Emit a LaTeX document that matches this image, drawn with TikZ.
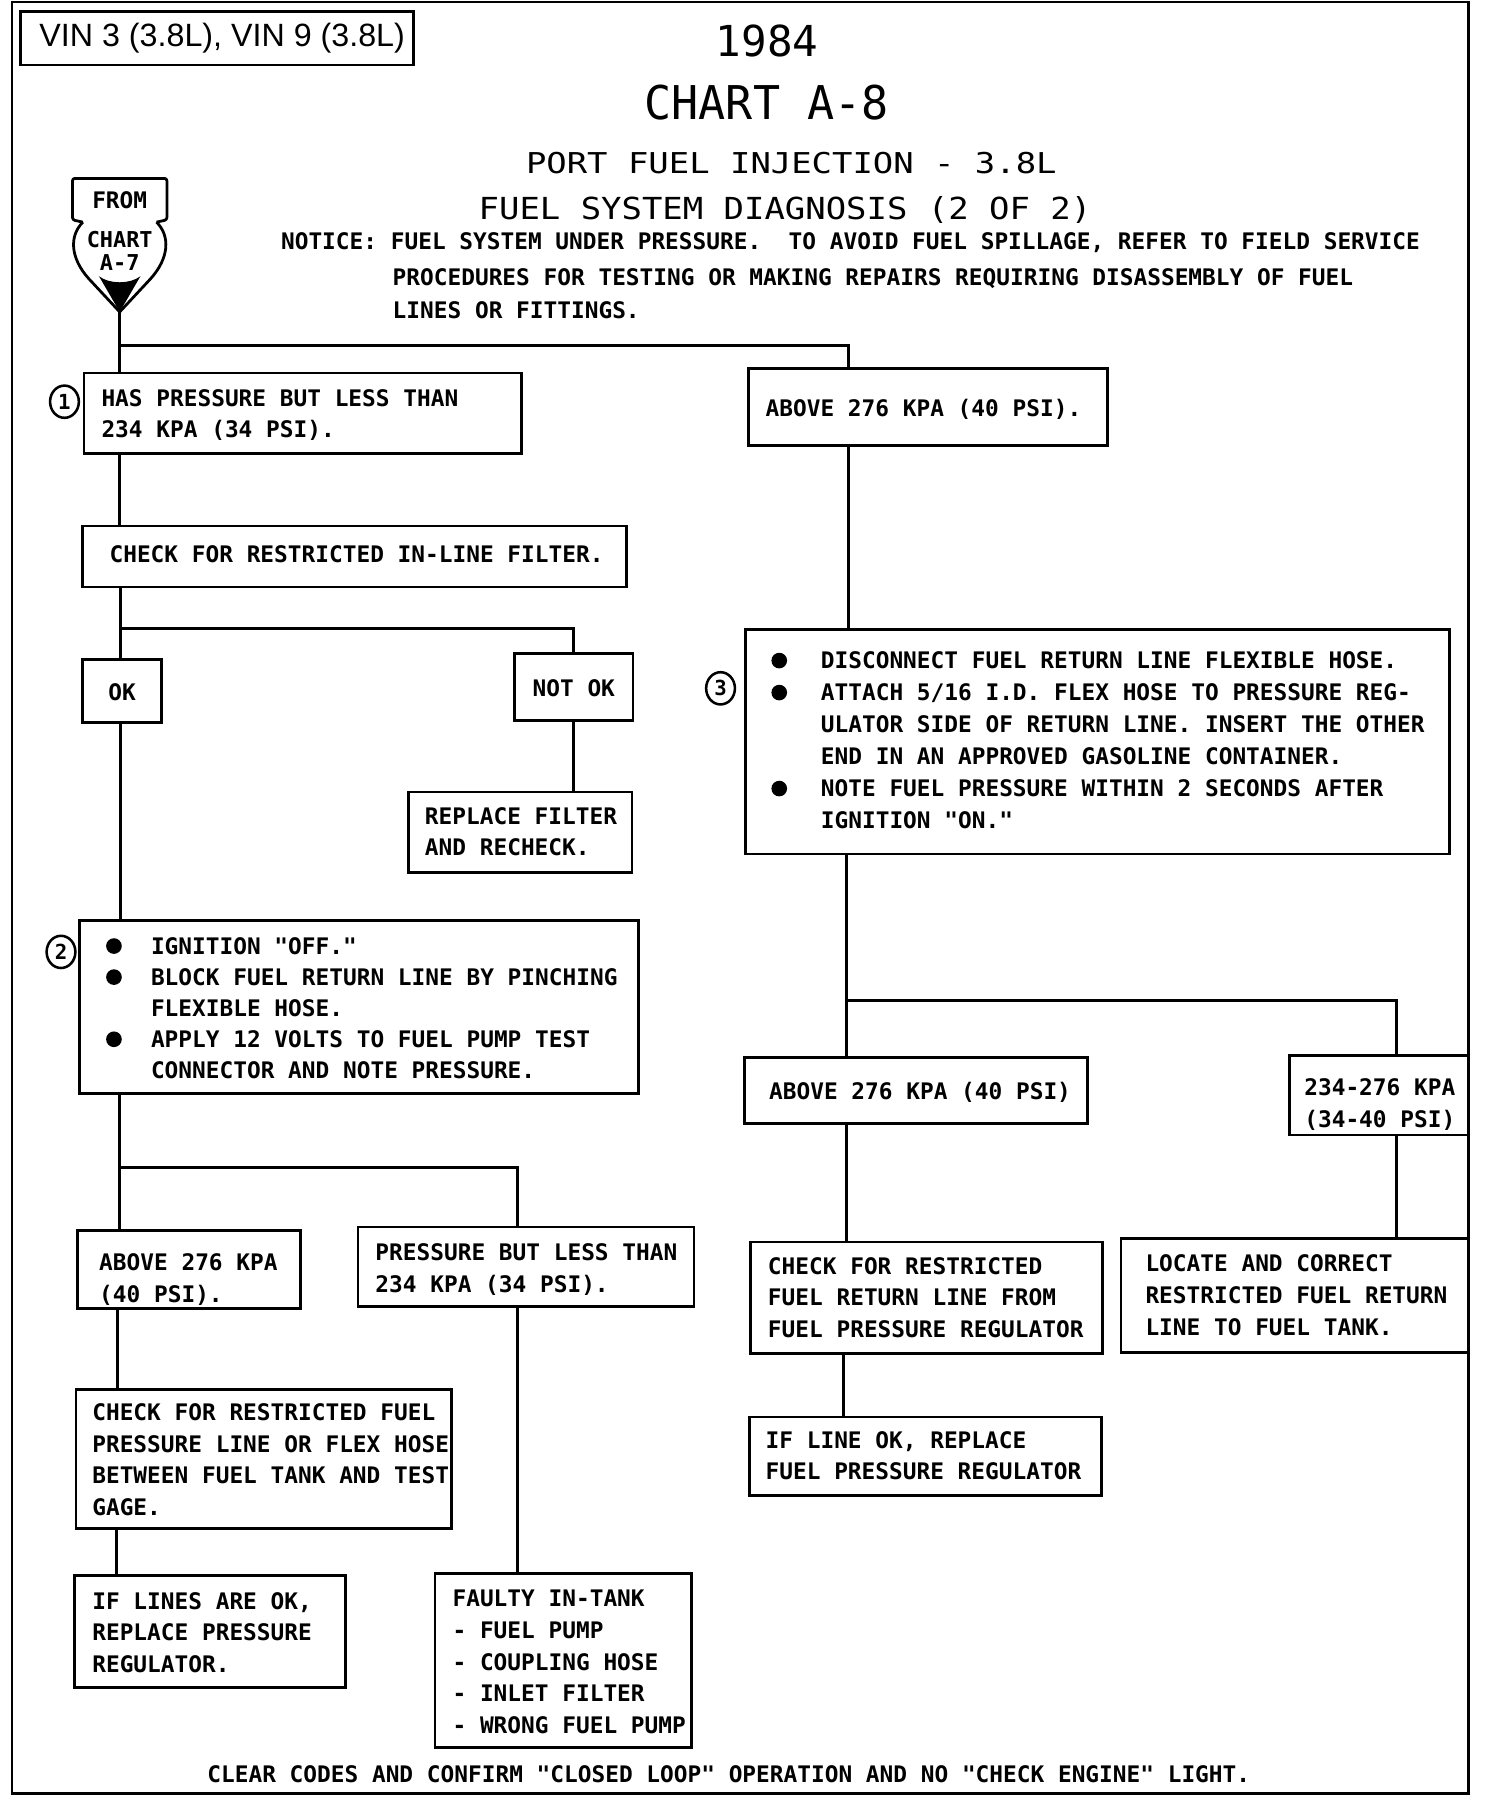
\documentclass[tikz,border=0pt]{standalone}
\usepackage{fontspec}
\usepackage{graphicx}
\usetikzlibrary{shapes.geometric}
\newfontfamily\vinfont{Liberation Sans}
\newfontfamily\plotfont{DejaVu Sans Mono}
\newcommand{\blt}[1]{\makebox[#1][l]{\raisebox{0.3pt}{\tikz\fill (0,0) circle (6.8pt);}}}
\newcommand{\mylines}[1]{\begin{tabular}[t]{@{}l@{}}#1\end{tabular}}
\tikzset{
  box/.style={draw, line width=2.4pt, rectangle, anchor=north west, inner sep=0pt, outer sep=0pt},
  conn/.style={line width=2.6pt},
  txt/.style={inner sep=0pt, anchor=base west, font=\plotfont\bfseries\fontsize{19.8}{27.5}\selectfont},
  ttl/.style={inner sep=0pt, anchor=base, font=\plotfont},
  num/.style={draw, ellipse, line width=2.2pt, minimum width=25pt, minimum height=28pt, inner sep=0pt, font=\plotfont\bfseries\fontsize{18}{20}\selectfont},
}
\begin{document}
\begin{tikzpicture}[x=1pt,y=-1pt]
\useasboundingbox (0,0) rectangle (1306.7,1567.3);
% outer frame
\draw[line width=2.4pt] (10.4,1.7) rectangle (1276,1558);

% header
\node[box, minimum width=341pt, minimum height=46.5pt] (vin) at (18,10) {};
\node[inner sep=0pt, anchor=base, font=\vinfont\fontsize{28}{30}\selectfont] (vint) at (193,40.5) {VIN 3 (3.8L), VIN 9 (3.8L)};
\node[ttl] (t1) at (666.5,49.5) {\resizebox{89pt}{27.5pt}{1984}};
\node[ttl] (t2) at (666,104) {\resizebox{212pt}{30pt}{CHART A-8}};
\node[ttl] (t3) at (687.5,150.5) {\resizebox{461pt}{18.5pt}{PORT FUEL INJECTION - 3.8L}};
\node[ttl] (t4) at (682,191) {\resizebox{532pt}{20pt}{FUEL SYSTEM DIAGNOSIS (2 OF 2)}};
\node[txt] (nt1) at (244,217) {NOTICE: FUEL SYSTEM UNDER PRESSURE.\ \ TO AVOID FUEL SPILLAGE, REFER TO FIELD SERVICE};
\node[txt] (nt2) at (341,248) {PROCEDURES FOR TESTING OR MAKING REPAIRS REQUIRING DISASSEMBLY OF FUEL};
\node[txt] (nt3) at (341,277) {LINES OR FITTINGS.};

% from chart symbol
\draw[line width=2.4pt, line join=round, rounded corners=2pt] (72,193) -- (63,191) -- (63,155) -- (145,155) -- (145,191) -- (136,193);
\draw[line width=2.4pt, line join=round] (136,193)
  .. controls (148,205) and (147,224) .. (131,242) -- (104,271) -- (77,242)
  .. controls (61,224) and (60,205) .. (72,193);
\fill (86,240) .. controls (95,247) and (113,247) .. (122,240) -- (104,271) -- cycle;
\node[txt, anchor=center] (fc1) at (104,174) {FROM};
\node[txt, anchor=center, font=\plotfont\bfseries\fontsize{19}{20}\selectfont] (fc2) at (104,208) {CHART};
\node[txt, anchor=center, font=\plotfont\bfseries\fontsize{19}{20}\selectfont] (fc3) at (104,228) {A-7};
\coordinate (fcTip) at (104,271);

% left column boxes
\node[box, minimum width=380pt, minimum height=70pt] (b1) at (73,324) {};
\node[txt] (b1t) at (88,353) {\mylines{HAS PRESSURE BUT LESS THAN\\234 KPA (34 PSI).}};
\node[num] (n1) at (56,349) {1};

\node[box, minimum width=472pt, minimum height=53pt] (b2) at (72,457) {};
\node[txt] (b2t) at (95,489) {CHECK FOR RESTRICTED IN-LINE FILTER.};

\node[box, minimum width=68pt, minimum height=55pt] (bok) at (72,573) {};
\node[txt, anchor=center] (bokt) at (106,601) {OK};
\node[box, minimum width=103pt, minimum height=58pt] (bnok) at (447,568) {};
\node[txt, anchor=center] (bnokt) at (498.5,598) {NOT OK};
\node[box, minimum width=194pt, minimum height=70pt] (brep) at (355,688) {};
\node[txt] (brept) at (369,716) {\mylines{REPLACE FILTER\\AND RECHECK.}};

\node[box, minimum width=486pt, minimum height=150pt] (b3) at (69,800) {};
\node[txt, font=\plotfont\bfseries\fontsize{19.8}{27}\selectfont] (b3t) at (92,829) {\mylines{\blt{39pt}IGNITION "OFF."\\
\blt{39pt}BLOCK FUEL RETURN LINE BY PINCHING\\
\hspace*{39pt}FLEXIBLE HOSE.\\
\blt{39pt}APPLY 12 VOLTS TO FUEL PUMP TEST\\
\hspace*{39pt}CONNECTOR AND NOTE PRESSURE.}};
\node[num] (n2) at (53,827) {2};

\node[box, minimum width=194pt, minimum height=68pt] (b4) at (67,1069) {};
\node[txt] (b4t) at (86,1104) {\mylines{ABOVE 276 KPA\\(40 PSI).}};
\node[box, minimum width=292pt, minimum height=69pt] (b5) at (311,1066) {};
\node[txt] (b5t) at (326,1095) {\mylines{PRESSURE BUT LESS THAN\\234 KPA (34 PSI).}};
\node[box, minimum width=326pt, minimum height=121pt] (b6) at (66,1207) {};
\node[txt] (b6t) at (80,1234) {\mylines{CHECK FOR RESTRICTED FUEL\\PRESSURE LINE OR FLEX HOSE\\BETWEEN FUEL TANK AND TEST\\GAGE.}};
\node[box, minimum width=235pt, minimum height=97pt] (b7) at (65,1369) {};
\node[txt] (b7t) at (80,1398) {\mylines{IF LINES ARE OK,\\REPLACE PRESSURE\\REGULATOR.}};
\node[box, minimum width=223pt, minimum height=151pt] (b8) at (378,1367) {};
\node[txt] (b8t) at (393,1396) {\mylines{FAULTY IN-TANK\\- FUEL PUMP\\- COUPLING HOSE\\- INLET FILTER\\- WRONG FUEL PUMP}};

% right column boxes
\node[box, minimum width=312pt, minimum height=67pt] (r1) at (650,320) {};
\node[txt] (r1t) at (665,362) {ABOVE 276 KPA (40 PSI).};
\node[box, minimum width=611pt, minimum height=195pt] (r2) at (648,547) {};
\node[txt, font=\plotfont\bfseries\fontsize{19.8}{27.8}\selectfont] (r2t) at (670,581) {\mylines{\blt{43pt}DISCONNECT FUEL RETURN LINE FLEXIBLE HOSE.\\
\blt{43pt}ATTACH 5/16 I.D. FLEX HOSE TO PRESSURE REG-\\
\hspace*{43pt}ULATOR SIDE OF RETURN LINE. INSERT THE OTHER\\
\hspace*{43pt}END IN AN APPROVED GASOLINE CONTAINER.\\
\blt{43pt}NOTE FUEL PRESSURE WITHIN 2 SECONDS AFTER\\
\hspace*{43pt}IGNITION "ON."}};
\node[num] (n3) at (626,598) {3};

\node[box, minimum width=298pt, minimum height=57pt] (r3) at (647,919) {};
\node[txt] (r3t) at (668,955) {ABOVE 276 KPA (40 PSI)};
\node[box, minimum width=156pt, minimum height=69pt] (r4) at (1120,917) {};
\node[txt] (r4t) at (1133,952) {\mylines{234-276 KPA\\(34-40 PSI)}};
\node[box, minimum width=306pt, minimum height=97pt] (r5) at (652,1079) {};
\node[txt] (r5t) at (667,1107) {\mylines{CHECK FOR RESTRICTED\\FUEL RETURN LINE FROM\\FUEL PRESSURE REGULATOR}};
\node[box, minimum width=302pt, minimum height=99pt] (r6) at (974,1076) {};
\node[txt] (r6t) at (995,1105) {\mylines{LOCATE AND CORRECT\\RESTRICTED FUEL RETURN\\LINE TO FUEL TANK.}};
\node[box, minimum width=306pt, minimum height=68pt] (r7) at (651,1231) {};
\node[txt] (r7t) at (665,1258) {\mylines{IF LINE OK, REPLACE\\FUEL PRESSURE REGULATOR}};

\node[txt] (foot) at (180,1549) {CLEAR CODES AND CONFIRM "CLOSED LOOP" OPERATION AND NO "CHECK ENGINE" LIGHT.};

% junction coordinates
\coordinate (j0) at (104,300);
\coordinate (k0) at (737,300);
\coordinate (j1) at (105,546);
\coordinate (k1) at (498,546);
\coordinate (j2) at (104,1014);
\coordinate (k2) at (450,1014);
\coordinate (x3) at (102,1170);
\coordinate (x4) at (101,1350);
\coordinate (j4) at (735,869);
\coordinate (k4) at (1213,869);
\coordinate (x5) at (733,1200);

% connectors
\draw[conn] (fcTip) -- (b1.north -| fcTip);
\draw[conn] (j0) -- (k0) -- (r1.north -| k0);
\draw[conn] (b1.south -| j0) -- (b2.north -| j0);
\draw[conn] (b2.south -| j1) -- (bok.north -| j1);
\draw[conn] (j1) -- (k1) -- (bnok.north -| k1);
\draw[conn] (bnok.south -| k1) -- (brep.north -| k1);
\draw[conn] (bok.south -| j1) -- (b3.north -| j1);
\draw[conn] (b3.south -| j2) -- (b4.north -| j2);
\draw[conn] (j2) -- (k2) -- (b5.north -| k2);
\draw[conn] (b4.south -| x3) -- (b6.north -| x3);
\draw[conn] (b6.south -| x4) -- (b7.north -| x4);
\draw[conn] (b5.south -| k2) -- (b8.north -| k2);
\draw[conn] (r1.south -| k0) -- (r2.north -| k0);
\draw[conn] (r2.south -| j4) -- (r3.north -| j4);
\draw[conn] (j4) -- (k4) -- (r4.north -| k4);
\draw[conn] (r3.south -| j4) -- (r5.north -| j4);
\draw[conn] (r4.south -| k4) -- (r6.north -| k4);
\draw[conn] (r5.south -| x5) -- (r7.north -| x5);
\end{tikzpicture}
\end{document}
